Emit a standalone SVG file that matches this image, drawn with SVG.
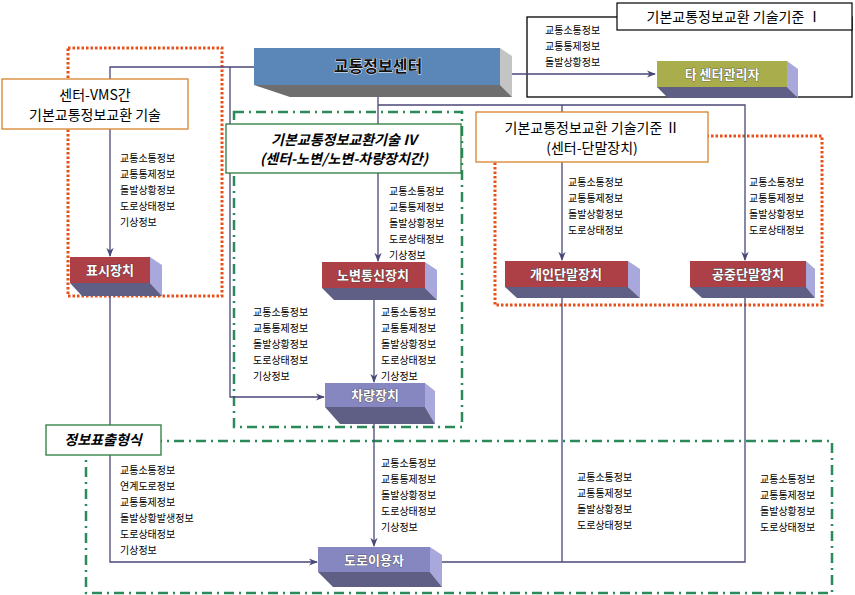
<svg xmlns="http://www.w3.org/2000/svg" width="855" height="595" viewBox="0 0 855 595">
<defs>
<style>
.t{font-family:"Noto Sans CJK KR","Noto Sans",sans-serif;font-size:10px;fill:#000}
.bt{font-family:"Noto Sans CJK KR",sans-serif;font-size:13px;font-weight:bold;fill:#fff;text-anchor:middle;stroke:#333;stroke-width:0.6;paint-order:stroke}
.lb{font-family:"Noto Sans CJK KR",sans-serif;font-size:14px;fill:#000;text-anchor:middle}
.li{font-family:"Noto Sans CJK KR",sans-serif;font-size:14px;font-style:italic;font-weight:bold;fill:#000;text-anchor:middle}
.c{fill:none;stroke:#4a4878;stroke-width:1.3}
.od{fill:none;stroke:#e8501a;stroke-width:3;stroke-dasharray:2.5 2}
.gd{fill:none;stroke:#2a8a5a;stroke-width:2.5;stroke-dasharray:10 5 2 5}
.side{fill:#a9a8dc}
.bot{fill:#5f5f85}
.red{fill:#ad3f46}
.pur{fill:#8686c0}
</style>
<marker id="a" viewBox="0 0 10 10" refX="9" refY="5" markerWidth="7" markerHeight="7" orient="auto-start-reverse"><path d="M0,1 L10,5 L0,9 L3,5 z" fill="#4a4878"/></marker>
</defs>
<rect width="855" height="595" fill="#fff"/>

<g id="frames">
<rect x="527" y="17" width="325" height="80" fill="none" stroke="#000" stroke-width="1.3"/>
<rect class="od" x="68" y="48" width="154" height="248"/>
<rect class="gd" x="234" y="112" width="228" height="315"/>
<rect class="od" x="495" y="136" width="327" height="169"/>
<rect class="gd" x="86" y="441" width="746" height="152"/>
</g>

<g id="connectors">
<path class="c" d="M254,67 H110 V256" marker-end="url(#a)"/>
<path class="c" d="M230,67 V397 H324" marker-end="url(#a)"/>
<path class="c" d="M110,296 V562 H317" marker-end="url(#a)"/>
<path class="c" d="M378,261 V87" marker-start="url(#a)" marker-end="url(#a)"/>
<path class="c" d="M378,105 H745 V260" marker-end="url(#a)"/>
<path class="c" d="M562,105 V260" marker-end="url(#a)"/>
<path class="c" d="M374,300 V382" marker-end="url(#a)"/>
<path class="c" d="M374,424 V546" marker-end="url(#a)"/>
<path class="c" d="M562,298 V562 M745,298 V562 H431" marker-end="url(#a)"/>
<path class="c" d="M502,74 H655" marker-start="url(#a)" marker-end="url(#a)"/>
</g>

<g id="center">
<polygon points="500,48 512,56 512,97 500,85" fill="#c4c4c4"/>
<polygon points="254,85 500,85 512,97 290,97" fill="#6e6e6e"/>
<rect x="254" y="48" width="246" height="37" fill="#5b86b8"/>
<text class="bt" x="378" y="72" style="font-size:16px;fill:#111;stroke:#fff;stroke-width:0.8">교통정보센터</text>
</g>

<g id="other-center">
<polygon points="787,61 798,69 798,98 787,87" class="side"/>
<polygon points="657,87 787,87 798,98 668,98" class="bot"/>
<rect x="657" y="61" width="130" height="26" fill="#a9ad4c"/>
<text class="bt" x="722" y="79">타 센터관리자</text>
</g>

<g id="display">
<polygon points="150,257 162,265 162,296 150,283" class="side"/>
<polygon points="70,283 150,283 162,296 82,296" class="bot"/>
<rect x="70" y="257" width="80" height="26" class="red"/>
<text class="bt" x="110" y="275">표시장치</text>
</g>

<g id="roadside">
<polygon points="425,262 437,270 437,300 425,288" class="side"/>
<polygon points="322,288 425,288 437,300 334,300" class="bot"/>
<rect x="322" y="262" width="103" height="26" class="red"/>
<text class="bt" x="373" y="280">노변통신장치</text>
</g>

<g id="personal">
<polygon points="628,261 640,269 640,298 628,287" class="side"/>
<polygon points="505,287 628,287 640,298 517,298" class="bot"/>
<rect x="505" y="261" width="123" height="26" class="red"/>
<text class="bt" x="566" y="279">개인단말장치</text>
</g>

<g id="public">
<polygon points="806,261 815,269 815,298 806,287" class="side"/>
<polygon points="690,287 806,287 815,298 702,298" class="bot"/>
<rect x="690" y="261" width="116" height="26" class="red"/>
<text class="bt" x="748" y="279">공중단말장치</text>
</g>

<g id="vehicle">
<polygon points="425,383 435,391 435,424 425,407" class="side"/>
<polygon points="325,407 425,407 435,424 340,424" class="bot"/>
<rect x="325" y="383" width="100" height="24" class="pur"/>
<text class="bt" x="375" y="400">차량장치</text>
</g>

<g id="user">
<polygon points="430,547 442,555 442,587 430,572" class="side"/>
<polygon points="318,572 430,572 442,587 333,587" class="bot"/>
<rect x="318" y="547" width="112" height="25" class="pur"/>
<text class="bt" x="374" y="565">도로이용자</text>
</g>

<g id="labels">
<rect x="617" y="3" width="235" height="27" fill="#fff" stroke="#000" stroke-width="1.2"/>
<text class="lb" x="734" y="22">기본교통정보교환 기술기준 Ⅰ</text>
<rect x="2" y="79" width="186" height="50" fill="#fff" stroke="#d9822b" stroke-width="1.3"/>
<text class="lb" x="95" y="100">센터-VMS간</text>
<text class="lb" x="95" y="120">기본교통정보교환 기술</text>
<rect x="226" y="124" width="235" height="49" fill="#fff" stroke="#2a7a3a" stroke-width="1.3"/>
<text class="li" x="344" y="145">기본교통정보교환기술 Ⅳ</text>
<text class="li" x="344" y="164">(센터-노변/노변-차량장치간)</text>
<rect x="476" y="112" width="232" height="50" fill="#fff" stroke="#d9822b" stroke-width="1.3"/>
<text class="lb" x="592" y="133">기본교통정보교환 기술기준 Ⅱ</text>
<text class="lb" x="592" y="153">(센터-단말장치)</text>
<rect x="46" y="425" width="115" height="30" fill="#fff" stroke="#2a7a3a" stroke-width="1.3"/>
<text class="li" x="103" y="445">정보표출형식</text>
</g>

<g id="texts" class="t">
<text class="t" x="545" y="34">교통소통정보</text>
<text class="t" x="545" y="50">교통통제정보</text>
<text class="t" x="545" y="66">돌발상황정보</text>

<text class="t" x="120" y="162">교통소통정보</text>
<text class="t" x="120" y="178">교통통제정보</text>
<text class="t" x="120" y="194">돌발상황정보</text>
<text class="t" x="120" y="210">도로상태정보</text>
<text class="t" x="120" y="226">기상정보</text>

<text class="t" x="389" y="195">교통소통정보</text>
<text class="t" x="389" y="211">교통통제정보</text>
<text class="t" x="389" y="227">돌발상황정보</text>
<text class="t" x="389" y="243">도로상태정보</text>
<text class="t" x="389" y="259">기상정보</text>

<text class="t" x="568" y="186">교통소통정보</text>
<text class="t" x="568" y="202">교통통제정보</text>
<text class="t" x="568" y="218">돌발상황정보</text>
<text class="t" x="568" y="234">도로상태정보</text>

<text class="t" x="749" y="186">교통소통정보</text>
<text class="t" x="749" y="202">교통통제정보</text>
<text class="t" x="749" y="218">돌발상황정보</text>
<text class="t" x="749" y="234">도로상태정보</text>

<text class="t" x="253" y="316">교통소통정보</text>
<text class="t" x="253" y="332">교통통제정보</text>
<text class="t" x="253" y="348">돌발상황정보</text>
<text class="t" x="253" y="364">도로상태정보</text>
<text class="t" x="253" y="380">기상정보</text>

<text class="t" x="381" y="316">교통소통정보</text>
<text class="t" x="381" y="332">교통통제정보</text>
<text class="t" x="381" y="348">돌발상황정보</text>
<text class="t" x="381" y="364">도로상태정보</text>
<text class="t" x="381" y="380">기상정보</text>

<text class="t" x="120" y="474">교통소통정보</text>
<text class="t" x="120" y="490">연계도로정보</text>
<text class="t" x="120" y="506">교통통제정보</text>
<text class="t" x="120" y="522">돌발상황발생정보</text>
<text class="t" x="120" y="538">도로상태정보</text>
<text class="t" x="120" y="554">기상정보</text>

<text class="t" x="381" y="467">교통소통정보</text>
<text class="t" x="381" y="483">교통통제정보</text>
<text class="t" x="381" y="499">돌발상황정보</text>
<text class="t" x="381" y="515">도로상태정보</text>
<text class="t" x="381" y="531">기상정보</text>

<text class="t" x="577" y="481">교통소통정보</text>
<text class="t" x="577" y="497">교통통제정보</text>
<text class="t" x="577" y="513">돌발상황정보</text>
<text class="t" x="577" y="529">도로상태정보</text>

<text class="t" x="760" y="483">교통소통정보</text>
<text class="t" x="760" y="499">교통통제정보</text>
<text class="t" x="760" y="515">돌발상황정보</text>
<text class="t" x="760" y="531">도로상태정보</text>
</g>
</svg>
